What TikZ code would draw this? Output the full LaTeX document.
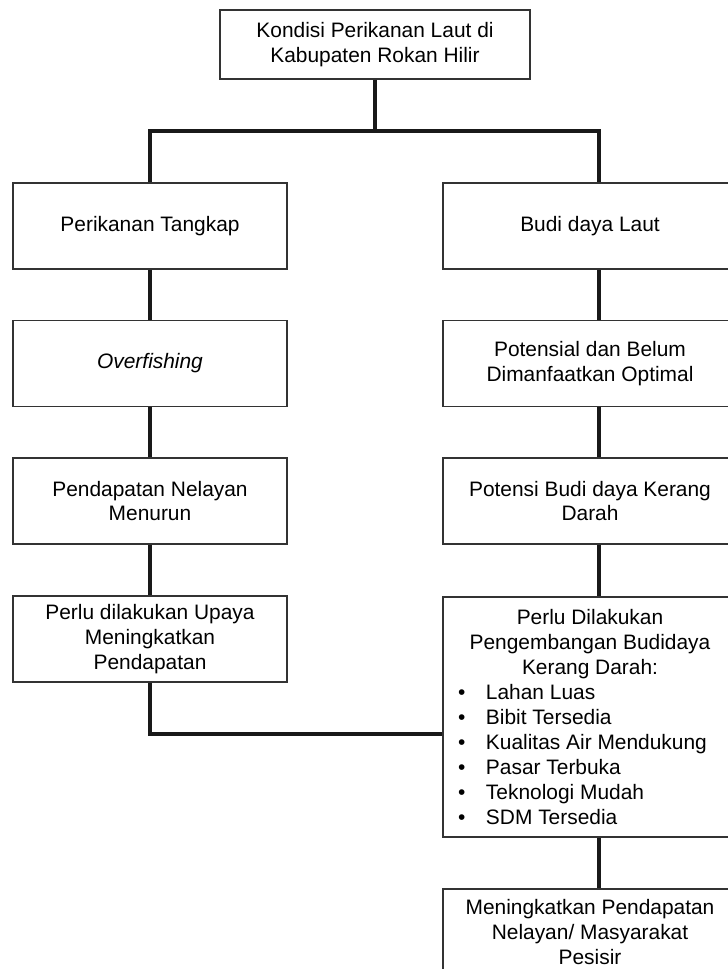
\documentclass[tikz,border=0pt]{standalone}
\usepackage{fontspec}
\setmainfont{Liberation Sans}
\usetikzlibrary{calc}

\begin{document}
\begin{tikzpicture}[kotak/.style={draw=black!80,line width=0.6pt,align=center,minimum height=1.72cm,inner sep=2pt,font=\fontsize{11.9}{14.2}\selectfont},
			kiri/.style={kotak,minimum width=5.48cm},
			kanan/.style={kotak,minimum width=5.88cm},
			garis/.style={line width=1.8pt,color=black!90}]
			\useasboundingbox (0,0) rectangle (14.54,-19.38);
			\node[kotak,minimum width=6.2cm,minimum height=1.38cm] (kondisi) at (7.5,-0.89) {Kondisi Perikanan Laut di\\Kabupaten Rokan Hilir};
			\node[kiri] (tangkap) at (3.0,-4.52) {Perikanan Tangkap};
			\node[kiri] (over) at (3.0,-7.27) {\itshape Overfishing};
			\node[kiri] (turun) at (3.0,-10.02) {Pendapatan Nelayan\\Menurun};
			\node[kiri] (upaya) at (3.0,-12.78) {Perlu dilakukan Upaya\\Meningkatkan\\Pendapatan};
			\node[kanan] (laut) at (11.8,-4.52) {Budi daya Laut};
			\node[kanan] (potensial) at (11.8,-7.27) {Potensial dan Belum\\Dimanfaatkan Optimal};
			\node[kanan] (kerang) at (11.8,-10.02) {Potensi Budi daya Kerang\\Darah};
			\node[kanan,minimum height=4.8cm] (kembang) at (11.8,-14.34) {Perlu Dilakukan\\Pengembangan Budidaya\\Kerang Darah:\\
				\makebox[5.28cm][l]{\makebox[0.56cm][l]{\textbullet}Lahan Luas}\\
				\makebox[5.28cm][l]{\makebox[0.56cm][l]{\textbullet}Bibit Tersedia}\\
				\makebox[5.28cm][l]{\makebox[0.56cm][l]{\textbullet}Kualitas Air Mendukung}\\
				\makebox[5.28cm][l]{\makebox[0.56cm][l]{\textbullet}Pasar Terbuka}\\
				\makebox[5.28cm][l]{\makebox[0.56cm][l]{\textbullet}Teknologi Mudah}\\
				\makebox[5.28cm][l]{\makebox[0.56cm][l]{\textbullet}SDM Tersedia}};
			\node[kanan] (hasil) at (11.8,-18.64) {Meningkatkan Pendapatan\\Nelayan/ Masyarakat\\Pesisir};
			\coordinate (cabang) at (7.5,-2.62);
			\coordinate (sambung) at (3.0,-14.68);
			\draw[garis] (kondisi.south) -- (cabang);
			\draw[garis] (tangkap.north) |- (cabang) -| ([xshift=0.18cm]laut.north);
			\foreach \a/\b in {tangkap/over,over/turun,turun/upaya}
			\draw[garis] (\a.south) -- (\b.north);
			\foreach \a/\b in {laut/potensial,potensial/kerang,kerang/kembang,kembang/hasil}
			\draw[garis] ([xshift=0.18cm]\a.south) -- ([xshift=0.18cm]\b.north);
			\draw[garis] (upaya.south) -- (sambung) -- (sambung -| kembang.west);
		\end{tikzpicture}
\end{document}
